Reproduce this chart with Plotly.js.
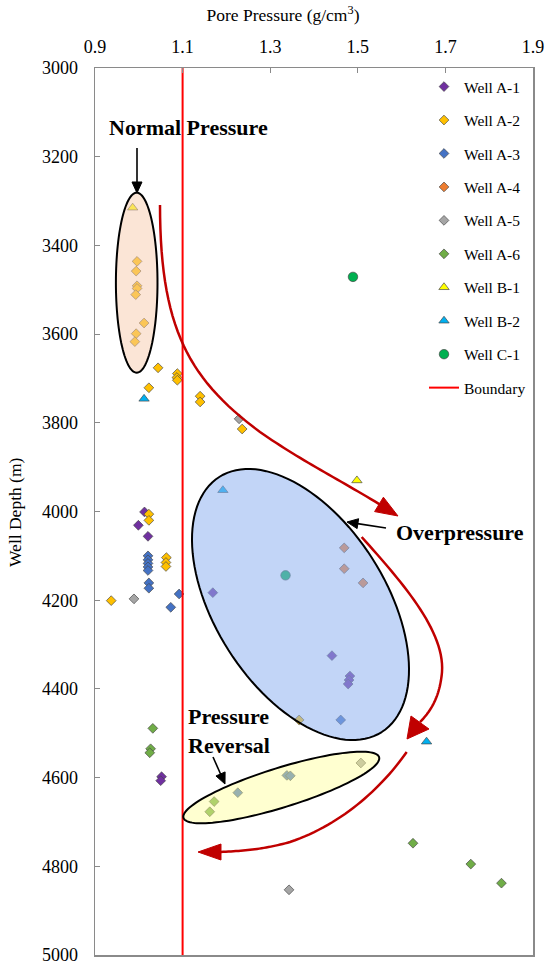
<!DOCTYPE html>
<html>
<head>
<meta charset="utf-8">
<script src="https://cdn.plot.ly/plotly-3.0.1.min.js"></script>
<style>html,body{margin:0;padding:0;background:#fff;}#chart{width:550px;height:968px;}</style>
</head>
<body>
<div id="chart"></div>
<script>
// ---------- data (pore pressure g/cm3, depth m) ----------
const wellA1P = [1.013, 0.999, 1.021, 1.169, 1.441, 1.482, 1.480, 1.478, 1.052, 1.050];
const wellA1D = [4001, 4031, 4056, 4183, 4325, 4371, 4380, 4389, 4598, 4607];

const wellA2P = [0.996, 0.994, 0.996, 0.996, 0.993, 1.012, 0.994, 0.991, 1.044, 1.088, 1.087, 1.088, 1.023, 1.140, 1.140, 1.236, 1.023, 1.023, 1.063, 1.062, 1.062, 0.937, 1.366];
const wellA2D = [3436, 3458, 3491, 3497, 3511, 3575, 3599, 3617, 3676, 3689, 3698, 3704, 3721, 3740, 3753, 3814, 4006, 4020, 4104, 4115, 4124, 4201, 4470];

const wellA3P = [1.021, 1.021, 1.021, 1.021, 1.021, 1.023, 1.023, 1.092, 1.073, 1.461, 1.338, 1.346, 1.226];
const wellA3D = [4100, 4109, 4117, 4125, 4133, 4161, 4173, 4186, 4216, 4470, 4595, 4596, 4634];

const wellA4P = [1.469, 1.469, 1.512];
const wellA4D = [4082, 4129, 4161];

const wellA5P = [1.229, 0.989, 1.507, 1.343];
const wellA5D = [3791, 4197, 4567, 4853];

const wellA6P = [1.032, 1.027, 1.025, 1.172, 1.162, 1.626, 1.758, 1.828];
const wellA6D = [4489, 4535, 4544, 4654, 4677, 4748, 4795, 4838];

const wellB1P = [0.986, 1.498];
const wellB1D = [3315, 3930];

const wellB2P = [1.012, 1.192, 1.657];
const wellB2D = [3746, 3952, 4519];

const wellC1P = [1.489, 1.335];
const wellC1D = [3471, 4144];

const boundaryP = [1.1, 1.1];
const boundaryD = [3000, 5000];

const seriesNames = ['Well A-1','Well A-2','Well A-3','Well A-4','Well A-5','Well A-6','Well B-1','Well B-2','Well C-1','Boundary'];

// ---------- styling / layout helpers ----------
const FONT = 'Liberation Serif, Times New Roman, serif';
const BOX = {L:95, R:533, T:68, B:955};
function px2paperX(px){ return (px - BOX.L) / (BOX.R - BOX.L); }
function px2paperY(py){ return (BOX.B - py) / (BOX.B - BOX.T); }
function pathFromPx(pts, close){
  let s = pts.map((p,i)=> (i===0?'M ':'L ') + px2paperX(p[0]).toFixed(5) + ',' + px2paperY(p[1]).toFixed(5)).join(' ');
  return close ? s + ' Z' : s;
}
function ellipsePts(cx, cy, a, b, deg){
  const th = deg*Math.PI/180, pts=[];
  for(let i=0;i<120;i++){
    const t = 2*Math.PI*i/120;
    pts.push([cx + a*Math.cos(th)*Math.cos(t) - b*Math.sin(th)*Math.sin(t),
              cy + a*Math.sin(th)*Math.cos(t) + b*Math.cos(th)*Math.sin(t)]);
  }
  return pts;
}
function bezierPts(segs){
  const pts=[];
  segs.forEach((s,k)=>{
    for(let i=(k===0?0:1);i<=30;i++){
      const t=i/30, u=1-t;
      pts.push([u*u*u*s[0][0]+3*u*u*t*s[1][0]+3*u*t*t*s[2][0]+t*t*t*s[3][0],
                u*u*u*s[0][1]+3*u*u*t*s[1][1]+3*u*t*t*s[2][1]+t*t*t*s[3][1]]);
    }
  });
  return pts;
}

const mline = {color:'rgba(70,70,70,0.85)', width:0.8};
function scatter(name, xs, ys, color, symbol, size){
  return {type:'scatter', mode:'markers', name:name, x:xs, y:ys, legendgroup:name,
          marker:{color:color, symbol:symbol, size:size, line:mline}};
}
const traces = [
  scatter(seriesNames[0], wellA1P, wellA1D, '#7030A0', 'diamond', 7.5),
  scatter(seriesNames[1], wellA2P, wellA2D, '#FFC000', 'diamond', 7.5),
  scatter(seriesNames[2], wellA3P, wellA3D, '#4472C4', 'diamond', 7.5),
  scatter(seriesNames[3], wellA4P, wellA4D, '#ED7D31', 'diamond', 7.5),
  scatter(seriesNames[4], wellA5P, wellA5D, '#A5A5A5', 'diamond', 7.5),
  scatter(seriesNames[5], wellA6P, wellA6D, '#70AD47', 'diamond', 7.5),
  scatter(seriesNames[6], wellB1P, wellB1D, '#FFFF00', 'triangle-up', 9),
  scatter(seriesNames[7], wellB2P, wellB2D, '#00B0F0', 'triangle-up', 9),
  scatter(seriesNames[8], wellC1P, wellC1D, '#00B050', 'circle', 9.5),
  {type:'scatter', mode:'lines', name:seriesNames[9], x:boundaryP, y:boundaryD, legendgroup:'b',
   line:{color:'#FF0000', width:2}}
];

const RED = '#C00000';
function arrowShapes(tail, tip, color, width, headLen, headHalf){
  const dx = tip[0]-tail[0], dy = tip[1]-tail[1], len = Math.hypot(dx,dy);
  const ux = dx/len, uy = dy/len, nx = -uy, ny = ux;
  const bx = tip[0]-ux*headLen, by = tip[1]-uy*headLen;
  return [
    {type:'path', xref:'paper', yref:'paper', layer:'above', path:pathFromPx([tail,[bx+ux*2,by+uy*2]],false),
     line:{color:color, width:width}},
    {type:'path', xref:'paper', yref:'paper', layer:'above',
     path:pathFromPx([tip,[bx+nx*headHalf,by+ny*headHalf],[bx-nx*headHalf,by-ny*headHalf]],true),
     fillcolor:color, line:{color:color, width:1}}
  ];
}
const shapes = [
  {type:'path', xref:'paper', yref:'paper', layer:'above', path:pathFromPx(ellipsePts(136.7,282.7,20.8,90,0),true),
   fillcolor:'rgba(247,203,173,0.5)', line:{color:'#000', width:2}},
  {type:'path', xref:'paper', yref:'paper', layer:'above', path:pathFromPx(ellipsePts(300.5,604.5,151.2,85.3,57.5),true),
   fillcolor:'rgba(144,179,240,0.55)', line:{color:'#000', width:2}},
  {type:'path', xref:'paper', yref:'paper', layer:'above', path:pathFromPx(ellipsePts(281.3,787.5,102.4,19.8,-17.25),true),
   fillcolor:'rgba(255,255,150,0.45)', line:{color:'#000', width:2}},
  // red trend arrows
  {type:'path', xref:'paper', yref:'paper', layer:'above',
   path:pathFromPx(bezierPts([[[160,205],[160,330],[190,380],[260,432]],[[260,432],[300,460],[340,480],[384,507]]]),false),
   line:{color:RED, width:2.5}},
  {type:'path', xref:'paper', yref:'paper', layer:'above', path:pathFromPx([[398,516],[383.4,497.2],[374.6,511.6]],true),
   fillcolor:RED, line:{color:RED, width:1}},
  {type:'path', xref:'paper', yref:'paper', layer:'above',
   path:pathFromPx(bezierPts([[[361.7,537],[400,580],[445,630],[442,672]],[[442,672],[440,695],[432,710],[420,722]]]),false),
   line:{color:RED, width:2.5}},
  {type:'path', xref:'paper', yref:'paper', layer:'above', path:pathFromPx([[407,739],[411,716],[429,729]],true),
   fillcolor:RED, line:{color:RED, width:1}},
  {type:'path', xref:'paper', yref:'paper', layer:'above',
   path:pathFromPx(bezierPts([[[406.7,752],[380,790],[340,825],[290,842]],[[290,842],[265,849],[245,851],[218,852]]]),false),
   line:{color:RED, width:2.5}},
  {type:'path', xref:'paper', yref:'paper', layer:'above', path:pathFromPx([[198,852],[221,844],[221,860]],true),
   fillcolor:RED, line:{color:RED, width:1}}
].concat(
  arrowShapes([137,148],[137,193],'#000',1.6,11,5),
  arrowShapes([386,528],[347,522],'#000',1.6,11,5),
  arrowShapes([213,757],[225,784],'#000',1.6,11,5)
);

function label(text, px, py, xanchor, align){
  return {xref:'paper', yref:'paper', x:px2paperX(px), y:px2paperY(py), text:text, showarrow:false,
          xanchor:xanchor, yanchor:'middle', align:align, font:{family:FONT, size:22, color:'#000'}};
}
const annotations = [
  label('<b>Normal Pressure</b>', 188, 128, 'center', 'center'),
  label('<b>Overpressure</b>', 460, 532, 'center', 'center'),
  label('<b>Pressure<br>Reversal</b>', 186, 731, 'left', 'left'),
  {xref:'paper', yref:'paper', x:px2paperX(15), y:px2paperY(512), text:'Well Depth (m)', textangle:-90, showarrow:false,
   xanchor:'center', yanchor:'middle', font:{family:FONT, size:17.5, color:'#000'}}
];

const axisCommon = {showgrid:false, zeroline:false, showline:true, linecolor:'#8a8a8a', linewidth:1.5, mirror:true,
                    ticks:'inside', ticklen:5, tickwidth:1, tickcolor:'#8a8a8a',
                    tickfont:{family:FONT, size:18, color:'#000'}};
const layout = {
  width:550, height:968, paper_bgcolor:'#fff', plot_bgcolor:'#fff',
  margin:{l:BOX.L, r:550-BOX.R, t:BOX.T, b:968-BOX.B},
  title:{text:'Pore Pressure (g/cm<sup>3</sup>)', x:283/550, xanchor:'center', y:1-15/968, yanchor:'middle',
         font:{family:FONT, size:17.5, color:'#000'}},
  xaxis:Object.assign({}, axisCommon, {side:'top', range:[0.9,1.9], tick0:0.9, dtick:0.2, tickformat:'.1f', ticklabelstandoff:6}),
  yaxis:Object.assign({}, axisCommon, {range:[5000,3000], tick0:3000, dtick:200, ticklabelstandoff:12}),
  showlegend:true,
  legend:{x:px2paperX(424), y:px2paperY(70), xanchor:'left', yanchor:'top', bgcolor:'rgba(0,0,0,0)',
          traceorder:'grouped', tracegroupgap:10.3, font:{family:FONT, size:15.5, color:'#000'}},
  shapes:shapes, annotations:annotations
};
Plotly.newPlot('chart', traces, layout, {staticPlot:true, displayModeBar:false});
</script>
</body>
</html>
